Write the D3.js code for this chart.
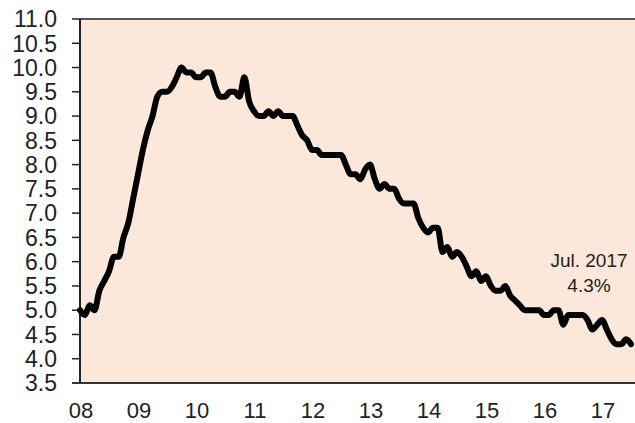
<!DOCTYPE html>
<html>
<head>
<meta charset="utf-8">
<script src="https://cdn.jsdelivr.net/npm/d3@7"></script>
<style>
  body { margin: 0; background: #fff; }
  text { font-family: "Liberation Sans", Arial, sans-serif; fill: #222; }
</style>
</head>
<body>
<div id="chart"></div>
<script>
// monthly unemployment rate, Jan 2008 .. Jul 2017
var startYear = 2008;
var rate2008 = [5.0, 4.9, 5.1, 5.0, 5.4, 5.6, 5.8, 6.1, 6.1, 6.5, 6.8, 7.3];
var rate2009 = [7.8, 8.3, 8.7, 9.0, 9.4, 9.5, 9.5, 9.6, 9.8, 10.0, 9.9, 9.9];
var rate2010 = [9.8, 9.8, 9.9, 9.9, 9.6, 9.4, 9.4, 9.5, 9.5, 9.4, 9.8, 9.3];
var rate2011 = [9.1, 9.0, 9.0, 9.1, 9.0, 9.1, 9.0, 9.0, 9.0, 8.8, 8.6, 8.5];
var rate2012 = [8.3, 8.3, 8.2, 8.2, 8.2, 8.2, 8.2, 8.0, 7.8, 7.8, 7.7, 7.9];
var rate2013 = [8.0, 7.7, 7.5, 7.6, 7.5, 7.5, 7.3, 7.2, 7.2, 7.2, 6.9, 6.7];
var rate2014 = [6.6, 6.7, 6.7, 6.2, 6.3, 6.1, 6.2, 6.1, 5.9, 5.7, 5.8, 5.6];
var rate2015 = [5.7, 5.5, 5.4, 5.4, 5.5, 5.3, 5.2, 5.1, 5.0, 5.0, 5.0, 5.0];
var rate2016 = [4.9, 4.9, 5.0, 5.0, 4.7, 4.9, 4.9, 4.9, 4.9, 4.8, 4.6, 4.7];
var rate2017 = [4.8, 4.6, 4.4, 4.3, 4.3, 4.4, 4.3];

var yearLabels = ["08", "09", "10", "11", "12", "13", "14", "15", "16", "17"];
var yTicks = [3.5, 4.0, 4.5, 5.0, 5.5, 6.0, 6.5, 7.0, 7.5, 8.0, 8.5, 9.0, 9.5, 10.0, 10.5, 11.0];
var noteLines = ["Jul. 2017", "4.3%"];

var allRates = [].concat(rate2008, rate2009, rate2010, rate2011, rate2012,
                         rate2013, rate2014, rate2015, rate2016, rate2017);
var series = allRates.map(function (v, i) { return { t: startYear + i / 12, v: v }; });

var W = 635, H = 423;
var margin = { top: 19, right: 0, bottom: 40, left: 80 };
var width = W - margin.left - margin.right,
    height = H - margin.top - margin.bottom;

var svg = d3.select("#chart").append("svg")
    .attr("width", W).attr("height", H);

var x = d3.scaleLinear()
    .domain([2008, 2008 + width / 58])
    .range([margin.left, margin.left + width]);
var y = d3.scaleLinear()
    .domain([3.5, 11.0])
    .range([margin.top + height, margin.top]);

// plot background
svg.append("rect")
    .attr("x", margin.left).attr("y", margin.top)
    .attr("width", width).attr("height", height)
    .attr("fill", "#fce8da");

// top border
svg.append("line")
    .attr("x1", margin.left).attr("x2", W)
    .attr("y1", margin.top).attr("y2", margin.top)
    .attr("stroke", "#555").attr("stroke-width", 2);

// y axis
var yAxis = svg.append("g");
yAxis.append("line")
    .attr("x1", margin.left).attr("x2", margin.left)
    .attr("y1", margin.top).attr("y2", margin.top + height)
    .attr("stroke", "#222").attr("stroke-width", 2);
yAxis.selectAll(".ytick")
    .data(yTicks)
    .join("line")
    .attr("class", "ytick")
    .attr("x1", margin.left - 8).attr("x2", margin.left)
    .attr("y1", d => y(d)).attr("y2", d => y(d))
    .attr("stroke", "#222").attr("stroke-width", 1.5);
yAxis.selectAll(".ylab")
    .data(yTicks)
    .join("text")
    .attr("class", "ylab")
    .attr("x", 57)
    .attr("y", d => y(d))
    .attr("dy", "0.36em")
    .attr("text-anchor", "end")
    .style("font-size", "23px")
    .text(d => d.toFixed(1));

// x axis
svg.append("line")
    .attr("x1", margin.left - 8).attr("x2", W)
    .attr("y1", margin.top + height).attr("y2", margin.top + height)
    .attr("stroke", "#333").attr("stroke-width", 2);
svg.selectAll(".xlab")
    .data(yearLabels)
    .join("text")
    .attr("class", "xlab")
    .attr("x", (d, i) => x(startYear + i) + 1)
    .attr("y", 418)
    .attr("text-anchor", "middle")
    .style("font-size", "22px")
    .text(d => d);

// the line
var line = d3.line()
    .x(d => x(d.t))
    .y(d => y(d.v))
    .curve(d3.curveMonotoneX);

svg.append("path")
    .datum(series)
    .attr("d", line)
    .attr("fill", "none")
    .attr("stroke", "#000")
    .attr("stroke-width", 6)
    .attr("stroke-linejoin", "round")
    .attr("stroke-linecap", "round");

// annotation
svg.selectAll(".note")
    .data(noteLines)
    .join("text")
    .attr("class", "note")
    .attr("x", 589)
    .attr("y", (d, i) => 267 + i * 25)
    .attr("text-anchor", "middle")
    .style("font-size", "19px")
    .text(d => d);
</script>
</body>
</html>
